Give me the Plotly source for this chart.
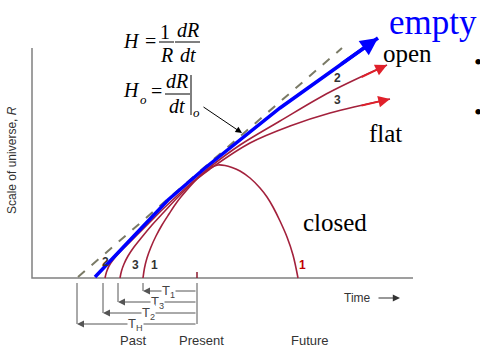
import plotly.graph_objects as go

# ---- data (time t relative to the present, scale R) ----
blue_t = [-102, -29, 8, 43, 83, 181]
blue_R = [1, 78, 110, 138, 170, 240]

dash_t = [-119, 145]
dash_R = [1, 230]

open_t = [-92, -90.5, -88, -84, -78, -70, -60, -48, -34, -18, 0, 13, 43, 83, 133, 190]
open_R = [0, 6, 12, 18, 25, 33, 43, 55, 69, 84, 100, 111, 133, 157, 186, 213]

flat_t = [-77, -75.5, -73, -69, -63, -55, -45, -33, -18, 0, 13, 53, 93, 133, 193]
flat_R = [0, 7, 14, 22, 31, 41, 53, 66, 82, 99, 109, 135, 152, 165, 179]

closed_t = [-54, -52.5, -50, -46, -41, -35, -28, -20, -11, 0, 8, 15, 21, 28, 35, 43, 53, 63, 70, 76, 83, 90, 96, 101]
closed_R = [0, 10, 20, 31, 42, 53, 64, 76, 87, 99, 106, 111, 113, 112.5, 110.5, 107, 100, 90, 81, 71, 57, 41, 23, 0]

interval_labels = ["T<sub>1</sub>", "T<sub>3</sub>", "T<sub>2</sub>", "T<sub>H</sub>"]
interval_start = [-54, -79, -94, -120]
interval_level = [-13, -24, -35, -46]
interval_label_t = [-29, -40, -49, -62]

time_labels = ["Past", "Present", "Future"]
time_label_t = [-64, 4, 113]

CURVE = "#a3213c"
ARROWRED = "#e0202a"
GRAY = "#555555"

fig = go.Figure()

# axes lines
fig.add_trace(go.Scatter(x=[-165, -165, 216], y=[230, 0, 0], mode="lines",
                         line=dict(color="#808080", width=1.5), hoverinfo="skip"))
# present tick
fig.add_trace(go.Scatter(x=[0, 0], y=[0, 6], mode="lines",
                         line=dict(color="#8b1a2e", width=1.5), hoverinfo="skip"))

# dashed empty-universe line
fig.add_trace(go.Scatter(x=dash_t, y=dash_R, mode="lines",
                         line=dict(color="#7a7a66", width=2, dash="dash"), hoverinfo="skip"))

# curves
for tt, rr in [(open_t, open_R), (flat_t, flat_R), (closed_t, closed_R)]:
    fig.add_trace(go.Scatter(x=tt, y=rr, mode="lines", line_shape="spline",
                             line=dict(color=CURVE, width=1.6), hoverinfo="skip"))

annotations = []
# curve labels (drawn before blue line)
for txt, t, r, c in [("2", -92, 16, "#333"), ("3", -62, 13, "#333"), ("1", -43, 13, "#333"),
                     ("2", 140, 200, "#333"), ("3", 140, 178, "#333"), ("1", 105, 13, "#c00000")]:
    annotations.append(dict(x=t, y=r, text="<b>%s</b>" % txt, showarrow=False,
                            font=dict(family="Liberation Sans, Arial", size=12, color=c)))

# blue line
fig.add_trace(go.Scatter(x=blue_t, y=blue_R, mode="lines",
                         line=dict(color="#0000ff", width=3.5), hoverinfo="skip"))

# arrowheads
annotations.append(dict(x=blue_t[-1], y=blue_R[-1], ax=blue_t[-2] + 60, ay=blue_R[-2] + 43,
                        xref="x", yref="y", axref="x", ayref="y", text="", showarrow=True,
                        arrowhead=2, arrowsize=1, arrowwidth=3.5, arrowcolor="#0000ff"))
for tt, rr in [(open_t, open_R), (flat_t, flat_R)]:
    annotations.append(dict(x=tt[-1], y=rr[-1], ax=tt[-2] + 30, ay=rr[-2] + (rr[-1] - rr[-2]) * 30 / (tt[-1] - tt[-2]),
                            xref="x", yref="y", axref="x", ayref="y", text="", showarrow=True,
                            arrowhead=2, arrowsize=1.3, arrowwidth=1.8, arrowcolor=ARROWRED))

# interval bars
for lab, s, lv, lt in zip(interval_labels, interval_start, interval_level, interval_label_t):
    fig.add_trace(go.Scatter(x=[s, s], y=[-5, lv], mode="lines",
                             line=dict(color=GRAY, width=1), hoverinfo="skip"))
    annotations.append(dict(x=s, y=lv, ax=0, ay=lv, xref="x", yref="y", axref="x", ayref="y",
                            text="", showarrow=True, arrowhead=2, arrowsize=1.4,
                            arrowwidth=1, arrowcolor=GRAY))
    annotations.append(dict(x=lt, y=lv, text=lab, showarrow=False, bgcolor="white",
                            borderpad=0,
                            font=dict(family="Liberation Sans, Arial", size=13, color="#444")))
fig.add_trace(go.Scatter(x=[0, 0], y=[-5, interval_level[-1]], mode="lines",
                         line=dict(color=GRAY, width=1), hoverinfo="skip"))

for lab, t in zip(time_labels, time_label_t):
    annotations.append(dict(x=t, y=-62, text=lab, showarrow=False,
                            font=dict(family="Liberation Sans, Arial", size=13, color="#333")))

# Time arrow
annotations.append(dict(x=160, y=-20, text="Time", showarrow=False,
                        font=dict(family="Liberation Sans, Arial", size=12, color="#333")))
annotations.append(dict(x=203, y=-20, ax=180, ay=-20, xref="x", yref="y", axref="x", ayref="y",
                        text="", showarrow=True, arrowhead=2, arrowsize=1.2,
                        arrowwidth=1.2, arrowcolor="#333"))

# y-axis title
annotations.append(dict(x=-185, y=118, text="Scale of universe, <i>R</i>", textangle=-90,
                        showarrow=False,
                        font=dict(family="Liberation Sans, Arial", size=12, color="#333")))

# formula arrow
annotations.append(dict(x=45, y=145, ax=5, ay=172, xref="x", yref="y", axref="x", ayref="y",
                        text="", showarrow=True, arrowhead=2, arrowsize=1.3,
                        arrowwidth=1, arrowcolor="black"))

SERIF = "Liberation Serif, Times New Roman"
def ftxt(t, r, s, size=20, italic=True):
    annotations.append(dict(x=t, y=r, text=("<i>%s</i>" % s) if italic else s, showarrow=False,
                            font=dict(family=SERIF, size=size, color="black")))

# formula 1
ftxt(-66, 237, "H")
ftxt(-47, 237, "=", italic=False)
ftxt(-32, 246, "1", italic=False)
ftxt(-31, 223, "R")
ftxt(-9, 248, "dR")
ftxt(-9, 223, "dt")
# formula 2
ftxt(-66, 188, "H")
ftxt(-54, 179, "o", size=13)
ftxt(-41, 187, "=", italic=False)
ftxt(-20, 197, "dR")
ftxt(-20, 172, "dt")
ftxt(-1, 166, "o", size=13)

shapes = [
    dict(type="line", x0=-38, x1=-23, y0=236, y1=236, line=dict(color="black", width=1)),
    dict(type="line", x0=-22, x1=3, y0=236, y1=236, line=dict(color="black", width=1)),
    dict(type="line", x0=-32, x1=-7, y0=184, y1=184, line=dict(color="black", width=1)),
    dict(type="line", x0=-6, x1=-6, y0=163, y1=203, line=dict(color="black", width=1)),
]

# big labels
annotations.append(dict(x=190, y=256, text="empty", xanchor="left", showarrow=False,
                        font=dict(family=SERIF, size=35, color="#0000ff")))
for txt, t, r in [("open", 210, 225), ("flat", 188, 145), ("closed", 138, 56)]:
    annotations.append(dict(x=t, y=r, text=txt, showarrow=False,
                            font=dict(family=SERIF, size=25, color="black")))
for r in [216, 166]:
    annotations.append(dict(x=281, y=r, text="•", showarrow=False,
                            font=dict(family=SERIF, size=24, color="black")))

fig.update_layout(
    width=480, height=348, margin=dict(l=0, r=0, t=0, b=0),
    paper_bgcolor="white", plot_bgcolor="white", showlegend=False,
    xaxis=dict(range=[-197, 283], visible=False, fixedrange=True),
    yaxis=dict(range=[-70, 278], visible=False, fixedrange=True),
    annotations=annotations, shapes=shapes,
)
fig.write_html("out.html", config={"displayModeBar": False, "staticPlot": True},
               post_script="document.body.style.margin='0';document.body.style.overflow='hidden';")
